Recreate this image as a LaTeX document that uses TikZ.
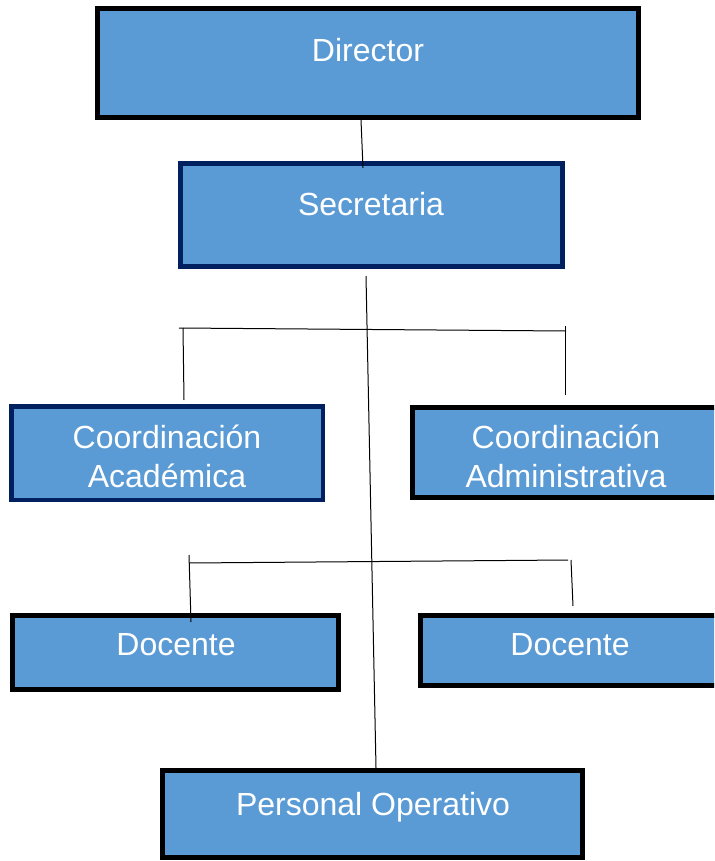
\documentclass[tikz,border=0pt]{standalone}
\usepackage{fontspec}
\setmainfont{Liberation Sans}
\usepackage{tikz}
\usetikzlibrary{positioning}
\definecolor{relleno}{HTML}{5B9BD5}
\definecolor{marino}{HTML}{002060}
\tikzset{
    % Define box styles
    caja/.style={
           draw=black,
           line width=5pt,
           fill=relleno,
           inner sep=0pt,},
    cajaazul/.style={
           caja,
           draw=marino,},
    texto/.style={
           text=white,
           inner sep=0pt,
           align=center,
           font=\fontsize{32}{39}\selectfont,},
    linea/.style={
           draw=black,
           line width=1pt,}
}
\begin{document}
\begin{tikzpicture}[x=1pt,y=-1pt]
  \useasboundingbox (0,0) rectangle (714,861);
  \begin{scope}
  \clip (0,0) rectangle (714,861);
  \node (dir) at (368,63) [caja,minimum width=541pt,minimum height=109pt] {};
  \node (sec) at (371.5,215) [cajaazul,minimum width=382pt,minimum height=103pt] {};
  \node (acad) at (167,453) [cajaazul,line width=4.5pt,minimum width=311.5pt,minimum height=93.5pt] {};
  \node (admin) at (566,452.5) [caja,minimum width=307pt,minimum height=90pt] {};
  \node (docA) at (175.5,652.5) [caja,minimum width=326pt,minimum height=74pt] {};
  \node (docB) at (570,650.5) [caja,minimum width=299pt,minimum height=70pt] {};
  \node (pers) at (372.5,814) [caja,minimum width=420pt,minimum height=87pt] {};
  \end{scope}
%  texts
  \node (dirT) at (368,62) [texto,anchor=base] {Director};
  \node (secT) at (371,215) [texto,anchor=base] {Secretaria};
  \node (acadT) at (167,487) [texto,anchor=base] {Coordinación\\Académica};
  \node (adminT) at (566,487) [texto,anchor=base] {Coordinación\\Administrativa};
  \node (docAT) at (176,655) [texto,anchor=base] {Docente};
  \node (docBT) at (570,655) [texto,anchor=base] {Docente};
  \node (persT) at (373,815) [texto,anchor=base] {Personal Operativo};
%  connectors
  \coordinate (d1) at (361,120);
  \coordinate (s1) at (363,168);
  \coordinate (s2) at (366,276);
  \coordinate (p1) at (376,768);
  \coordinate (b1l) at (179,328);
  \coordinate (b1r) at (566,331);
  \coordinate (v1a) at (183,328);
  \coordinate (v1b) at (184,400);
  \coordinate (v2a) at (565,326);
  \coordinate (v2b) at (565,395);
  \coordinate (b2l) at (189,563);
  \coordinate (b2r) at (568,560);
  \coordinate (v3a) at (189,555);
  \coordinate (v3b) at (191,622);
  \coordinate (v4a) at (571,560);
  \coordinate (v4b) at (573,606);
  \draw [linea] (d1) -- (s1);
  \draw [linea] (s2) -- (p1);
  \draw [linea] (b1l) -- (b1r);
  \draw [linea] (v1a) -- (v1b);
  \draw [linea] (v2a) -- (v2b);
  \draw [linea] (b2l) -- (b2r);
  \draw [linea] (v3a) -- (v3b);
  \draw [linea] (v4a) -- (v4b);
\end{tikzpicture}
\end{document}
